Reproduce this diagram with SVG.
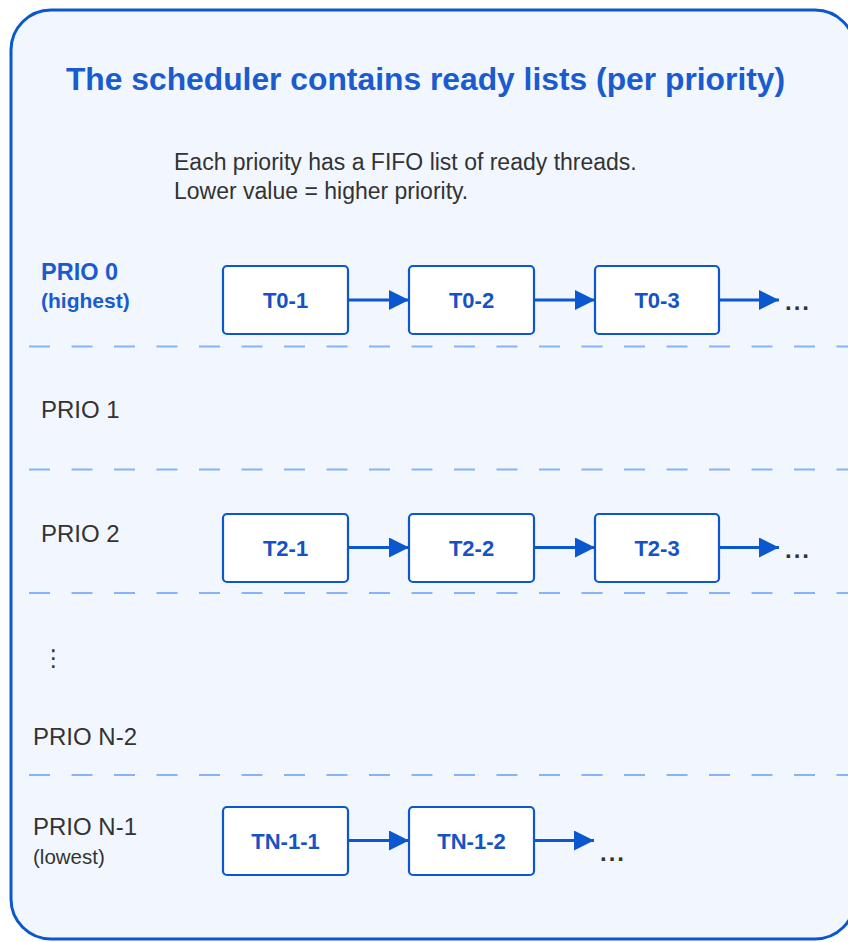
<svg xmlns="http://www.w3.org/2000/svg" width="848" height="942" viewBox="0 0 848 942">
<style>
.title{font-family:"Liberation Sans",Arial,sans-serif;font-weight:bold;font-size:31.8px;fill:#1a5bcf}
.sub{font-family:"Liberation Sans",Arial,sans-serif;font-size:23px;fill:#333}
.lbl{font-family:"Liberation Sans",Arial,sans-serif;font-size:24px;fill:#333}
.lblb{font-family:"Liberation Sans",Arial,sans-serif;font-size:23.5px;fill:#1a5bcf;font-weight:bold}
.small{font-family:"Liberation Sans",Arial,sans-serif;font-size:20.5px;fill:#333}
.smallb{font-family:"Liberation Sans",Arial,sans-serif;font-size:21px;fill:#1a5bcf;font-weight:bold}
.box rect{fill:#fff;stroke:#0b57d0;stroke-width:2.2}
.box text{font-family:"Liberation Sans",Arial,sans-serif;font-size:22px;font-weight:bold;fill:#1552c6;text-anchor:middle}
.sep{stroke:#86b4f8;stroke-width:2;stroke-dasharray:21 21.5}
.conn line{stroke:#0b57d0;stroke-width:3}
.dots{font-family:"Liberation Sans",Arial,sans-serif;font-size:24px;font-weight:bold;fill:#333;letter-spacing:2px}
</style>
<defs>
<marker id="ah" markerWidth="20" markerHeight="20" refX="20" refY="10" orient="auto" markerUnits="userSpaceOnUse">
<path d="M0,0 L20,10 L0,20 Z" fill="#0b57d0"/>
</marker>
</defs>
<rect x="11" y="10" width="844" height="929" rx="40" fill="#f2f7ff" stroke="#0b57d0" stroke-width="3"/>
<text class="title" x="425.5" y="90" text-anchor="middle">The scheduler contains ready lists (per priority)</text>
<text class="sub" x="174" y="170">Each priority has a FIFO list of ready threads.</text>
<text class="sub" x="174" y="199">Lower value = higher priority.</text>

<g id="separators">
<line class="sep" x1="29" y1="346.5" x2="848" y2="346.5"/>
<line class="sep" x1="29" y1="469.5" x2="848" y2="469.5"/>
<line class="sep" x1="29" y1="593" x2="848" y2="593"/>
<line class="sep" x1="29" y1="775" x2="848" y2="775"/>
</g>

<g id="labels">
<text class="lblb" x="41" y="280">PRIO 0</text>
<text class="smallb" x="41" y="308">(highest)</text>
<text class="lbl" x="41" y="418">PRIO 1</text>
<text class="lbl" x="41" y="542">PRIO 2</text>
<text x="42" y="666" style="font-family:'DejaVu Sans',sans-serif;font-size:23px;fill:#333">⋮</text>
<text class="lbl" x="33" y="745">PRIO N-2</text>
<text class="lbl" x="33" y="835">PRIO N-1</text>
<text class="small" x="33" y="864">(lowest)</text>
</g>

<g id="T0-1" class="box"><rect x="223" y="266" width="125" height="68" rx="4"/><text x="285.5" y="307.5">T0-1</text></g>
<g id="T0-2" class="box"><rect x="409" y="266" width="125" height="68" rx="4"/><text x="471.5" y="307.5">T0-2</text></g>
<g id="T0-3" class="box"><rect x="595" y="266" width="124" height="68" rx="4"/><text x="657" y="307.5">T0-3</text></g>

<g id="T2-1" class="box"><rect x="223" y="514" width="125" height="68" rx="4"/><text x="285.5" y="555.5">T2-1</text></g>
<g id="T2-2" class="box"><rect x="409" y="514" width="125" height="68" rx="4"/><text x="471.5" y="555.5">T2-2</text></g>
<g id="T2-3" class="box"><rect x="595" y="514" width="124" height="68" rx="4"/><text x="657" y="555.5">T2-3</text></g>

<g id="TN-1-1" class="box"><rect x="223" y="807" width="125" height="68" rx="4"/><text x="285.5" y="848.5">TN-1-1</text></g>
<g id="TN-1-2" class="box"><rect x="409" y="807" width="125" height="68" rx="4"/><text x="471.5" y="848.5">TN-1-2</text></g>

<g id="connectors" class="conn">
<line x1="348" y1="300" x2="409" y2="300" marker-end="url(#ah)"/>
<line x1="534" y1="300" x2="595" y2="300" marker-end="url(#ah)"/>
<line x1="719" y1="300" x2="779" y2="300" marker-end="url(#ah)"/>
<line x1="348" y1="547.5" x2="409" y2="547.5" marker-end="url(#ah)"/>
<line x1="534" y1="547.5" x2="595" y2="547.5" marker-end="url(#ah)"/>
<line x1="719" y1="547.5" x2="779" y2="547.5" marker-end="url(#ah)"/>
<line x1="348" y1="840.5" x2="409" y2="840.5" marker-end="url(#ah)"/>
<line x1="534" y1="840.5" x2="594" y2="840.5" marker-end="url(#ah)"/>
</g>

<g id="ellipses">
<text class="dots" x="785" y="310">...</text>
<text class="dots" x="785" y="558">...</text>
<text class="dots" x="600" y="861">...</text>
</g>
</svg>
